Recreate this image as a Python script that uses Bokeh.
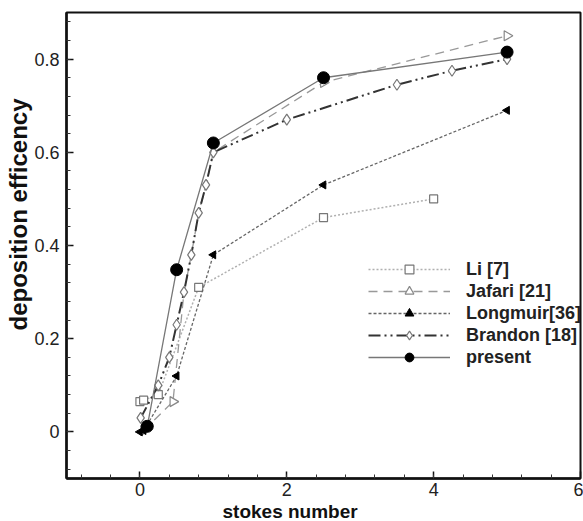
import numpy as np
from bokeh.plotting import figure
from bokeh.models import FixedTicker, Legend, LegendItem, Title, Range1d
from bokeh.embed import file_html
from bokeh.resources import INLINE

# ---- data ----
li_x = [0.0, 0.05, 0.25, 0.8, 2.5, 4.0]
li_y = [0.065, 0.068, 0.08, 0.31, 0.46, 0.5]

jafari_x = [0.05, 0.45, 0.6, 0.7, 0.8, 0.9, 1.0, 2.5, 5.0]
jafari_y = [0.003, 0.065, 0.3, 0.38, 0.47, 0.53, 0.6, 0.75, 0.85]

longmuir_x = [0.0, 0.05, 0.5, 1.0, 2.5, 5.0]
longmuir_y = [0.0, 0.003, 0.12, 0.38, 0.53, 0.69]

brandon_x = [0.01, 0.25, 0.4, 0.5, 0.6, 0.7, 0.8, 0.9, 1.0, 2.0, 3.5, 4.25, 5.0]
brandon_y = [0.03, 0.1, 0.16, 0.23, 0.3, 0.38, 0.47, 0.53, 0.6, 0.67, 0.745, 0.775, 0.8]

present_x = [0.1, 0.5, 1.0, 2.5, 5.0]
present_y = [0.012, 0.348, 0.62, 0.76, 0.815]

x_ticks = [0, 2, 4, 6]
y_ticks = [0, 0.2, 0.4, 0.6, 0.8]
x_label = "stokes number"
y_label = "deposition efficency"

FONT = "Liberation Sans"

p = figure(width=583, height=521, output_backend="svg", toolbar_location=None,
           x_range=Range1d(-1, 6), y_range=Range1d(-0.1, 0.9),
           min_border_left=66, min_border_right=3, min_border_top=12, min_border_bottom=43)
p.grid.visible = False
p.outline_line_color = "#111111"
p.outline_line_width = 2
p.background_fill_color = "white"

for ax, ticks, minors in ((p.xaxis[0], x_ticks, list(np.round(np.arange(-0.8, 6.0, 0.4), 3))),
                          (p.yaxis[0], y_ticks, list(np.round(np.arange(-0.08, 0.9, 0.04), 3)))):
    ax.ticker = FixedTicker(ticks=ticks, minor_ticks=minors)
    ax.axis_line_width = 2.5
    ax.axis_line_color = "#111111"
    ax.major_tick_in = 7
    ax.major_tick_out = 0
    ax.minor_tick_in = 4
    ax.minor_tick_out = 0
    ax.major_tick_line_width = 1.5
    ax.major_tick_line_color = "#111111"
    ax.minor_tick_line_color = "#333333"
    ax.major_label_text_font = FONT
    ax.major_label_text_font_size = "18px"
    ax.major_label_text_color = "#222222"

p.xaxis.major_label_standoff = 4
p.yaxis.major_label_standoff = 7
p.xaxis.major_label_overrides = {0: "0", 2: "2", 4: "4", 6: "6"}
p.yaxis.major_label_overrides = {0: "0", 0.2: "0.2", 0.4: "0.4", 0.6: "0.6", 0.8: "0.8"}

# series
r_li_l = p.line(li_x, li_y, line_color="#b0b0b0", line_width=1.5, line_dash="2 2")
r_li_m = p.scatter(li_x, li_y, marker="square", size=8, fill_color="white",
                   line_color="#777777", line_width=1.2)

r_ja_l = p.line(jafari_x, jafari_y, line_color="#999999", line_width=1.3, line_dash="9 6")
r_ja_m = p.scatter(jafari_x[:2] + jafari_x[-2:], jafari_y[:2] + jafari_y[-2:], marker="triangle",
                   angle=-np.pi / 2, size=10, fill_color="white", line_color="#888888", line_width=1.2)

r_lo_l = p.line(longmuir_x, longmuir_y, line_color="#666666", line_width=1.3, line_dash="3 2")
r_lo_m = p.scatter(longmuir_x, longmuir_y, marker="triangle", angle=np.pi / 2, size=8,
                   fill_color="black", line_color="black")

r_br_l = p.line(brandon_x, brandon_y, line_color="#333333", line_width=2, line_dash="12 4 2 4 2 4")
r_br_m = p.scatter(brandon_x, brandon_y, marker="diamond", size=11, fill_color="white",
                   line_color="#777777", line_width=1.2)

r_pr_l = p.line(present_x, present_y, line_color="#777777", line_width=1.3)
r_pr_m = p.scatter(present_x, present_y, marker="circle", size=12, fill_color="black",
                   line_color="black")

legend = Legend(items=[
    LegendItem(label="Li [7]", renderers=[r_li_l, r_li_m]),
    LegendItem(label="Jafari [21]", renderers=[r_ja_l, r_ja_m]),
    LegendItem(label="Longmuir[36]", renderers=[r_lo_l, r_lo_m]),
    LegendItem(label="Brandon [18]", renderers=[r_br_l, r_br_m]),
    LegendItem(label="present", renderers=[r_pr_l, r_pr_m]),
], location=(302, 110))
legend.glyph_width = 82
legend.glyph_height = 22
legend.label_standoff = 16
legend.spacing = 0
legend.padding = 0
legend.margin = 0
legend.border_line_color = None
legend.background_fill_alpha = 0
legend.label_text_font = FONT
legend.label_text_font_style = "bold"
legend.label_text_font_size = "18px"
legend.label_height = 22
legend.label_text_color = "#222222"
p.add_layout(legend, "center")

# axis labels (offset from frame centre, as in the picture)
p.add_layout(Title(text=x_label, align="left", offset=156, standoff=0,
                   text_font=FONT, text_font_style="bold", text_font_size="19px",
                   text_color="#111111"), "below")
p.add_layout(Title(text=y_label, align="left", offset=148, standoff=0,
                   text_font=FONT, text_font_style="bold", text_font_size="24px",
                   text_color="#111111"), "left")

open("out.html", "w").write(file_html(p, INLINE))
